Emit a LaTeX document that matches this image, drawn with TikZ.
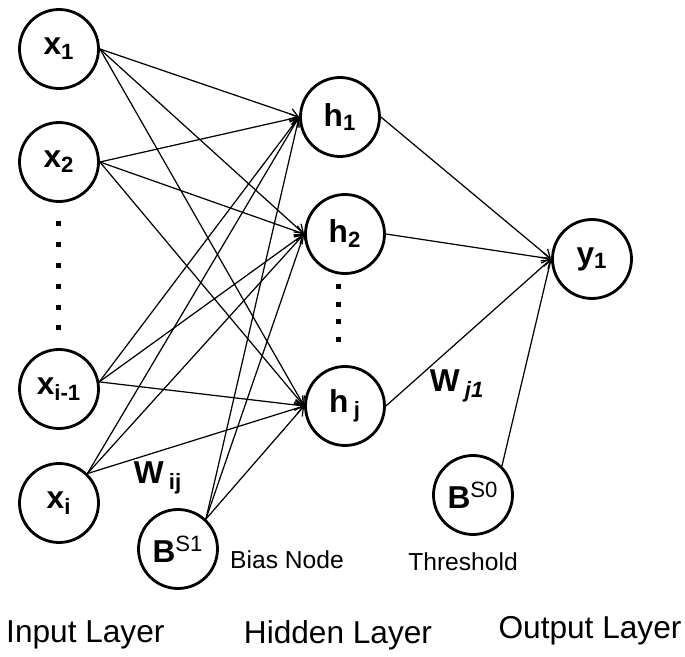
\documentclass[tikz,border=0pt]{standalone}
\usepackage{fontspec}
\setmainfont{Liberation Sans}
\usetikzlibrary{positioning,arrows.meta}

\begin{document}
\begin{tikzpicture}[
        % --- STYLE CHUNG ---
        neuron/.style={
            circle,
            draw=black,
            line width=1.6pt,
            minimum size=1.58cm,
            inner sep=0pt,
            font=\bfseries\fontsize{18}{20}\selectfont
        },
        % đường nối có mũi tên
        link/.style={
            draw=black,
            line width=0.7pt,
            -{Straight Barb[length=1.6mm, width=2.2mm]}
        },
        % nhãn trọng số
        weight/.style={font=\bfseries\fontsize{18}{20}\selectfont},
        % chú thích nhỏ
        note/.style={font=\fontsize{14}{16}\selectfont},
        % tên các lớp
        layer/.style={font=\fontsize{18}{20}\selectfont},
        % chấm vuông
        dotmark/.style={fill=black, minimum size=1mm, inner sep=0pt}
    ]

        \useasboundingbox (0,0) rectangle (13.7,-13.14);

        % --- LỚP VÀO ---
        \node[neuron] (x1) at (1.18,-0.98) {x\textsubscript{1}};
        \node[neuron] (x2) at (1.18,-3.24) {x\textsubscript{2}};
        \node[neuron] (xim1) at (1.18,-7.78) {x\textsubscript{i-1}};
        \node[neuron] (xi) at (1.18,-10.06) {x\textsubscript{i}};
        \node[neuron] (bs1) at (3.56,-10.98) {B\textsuperscript{\mdseries S1}};

        \foreach \k in {0,...,5} {
            \node[dotmark] (din\k) at (1.16,{-4.48-0.416*\k}) {};
        }

        % --- LỚP ẨN ---
        \node[neuron] (h1) at (6.8,-2.34) {h\textsubscript{1}};
        \node[neuron] (h2) at (6.9,-4.68) {h\textsubscript{2}};
        \node[neuron] (hj) at (6.9,-8.12) {h\,\textsubscript{j}};

        \foreach \k in {0,...,3} {
            \node[dotmark] (dh\k) at (6.76,{-5.74-0.347*\k}) {};
        }

        % --- LỚP RA ---
        \node[neuron] (y1) at (11.84,-5.18) {y\textsubscript{1}};
        \node[neuron] (bs0) at (9.46,-9.9) {B\textsuperscript{\mdseries S0}};

        % --- ĐƯỜNG NỐI ---
        \foreach \src/\anc in {x1/east, x2/east, xim1/10, xi/46, bs1/47} {
            \foreach \dst in {h1, h2, hj} {
                \draw[link] (\src.\anc) -- (\dst.west);
            }
        }
        \foreach \src/\anc in {h1/east, h2/east, hj/east, bs0/45} {
            \draw[link] (\src.\anc) -- (y1.west);
        }

        % --- NHÃN ---
        \node[weight] (wij) at (3.16,-9.56) {W\,\textsubscript{ij}};
        \node[weight] (wj1) at (9.14,-7.72) {W\,\textsubscript{\itshape j1}};
        \node[note] (bias) at (5.74,-11.2) {Bias Node};
        \node[note] (thr) at (9.26,-11.24) {Threshold};

        \node[layer, anchor=west] (inl) at (0,-12.7) {Input Layer};
        \node[layer] (hidl) at (6.76,-12.7) {Hidden Layer};
        \node[layer] (outl) at (11.8,-12.62) {Output Layer};

    \end{tikzpicture}
\end{document}
